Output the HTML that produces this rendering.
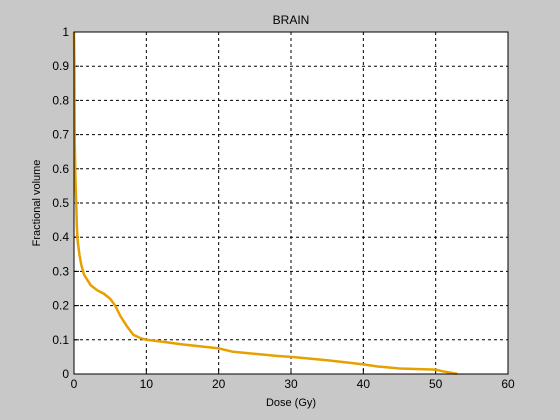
<!DOCTYPE html>
<html><head><style>
body{margin:0;background:#c8c8c8;}
svg{display:block;font-family:"Liberation Sans",sans-serif;}
</style></head><body>
<svg id="chart" width="560" height="420">
<rect x="0" y="0" width="560" height="420" fill="#c8c8c8"/>
<rect x="74" y="32" width="434" height="342" fill="#fff"/>
<g id="grid"></g>
<g id="ticks"></g>
<path id="curve" fill="none" stroke="#e8a000" stroke-width="2.5"/>
<rect x="74" y="32" width="434" height="342" fill="none" stroke="#000" stroke-width="1"/>
<text x="291" y="24" font-size="12" text-anchor="middle">BRAIN</text>
<text x="291" y="406" font-size="11" text-anchor="middle">Dose (Gy)</text>
<text x="40" y="203" font-size="11" text-anchor="middle" transform="rotate(-90 40 203)">Fractional volume</text>
</svg>
<script>
const xTicks=[0,10,20,30,40,50,60];
const yTicks=[0,0.1,0.2,0.3,0.4,0.5,0.6,0.7,0.8,0.9,1];
const yTickLabels=["0","0.1","0.2","0.3","0.4","0.5","0.6","0.7","0.8","0.9","1"];
const doseValues=[0,0.05,0.1,0.2,0.3,0.4,0.5,0.75,1,1.4,2.3,3.2,4.1,5,5.7,6.4,7.3,8.2,9.2,10,12,14.8,20,22,28,30,35,40,42,45,50,51,52,53];
const volumeValues=[1,0.9,0.68,0.58,0.5,0.43,0.39,0.35,0.32,0.29,0.26,0.245,0.235,0.22,0.2,0.17,0.14,0.115,0.105,0.1,0.095,0.087,0.075,0.065,0.053,0.05,0.04,0.028,0.022,0.016,0.013,0.008,0.004,0];
const X0=74,X1=508,Y0=374,Y1=32;
const sx=v=>X0+(v-0)/60*(X1-X0);
const sy=v=>Y0-(v-0)/1*(Y0-Y1);
const NS="http://www.w3.org/2000/svg";
const grid=document.getElementById('grid'),ticks=document.getElementById('ticks');
function mk(tag,attrs,parent){const e=document.createElementNS(NS,tag);for(const k in attrs)e.setAttribute(k,attrs[k]);parent.appendChild(e);return e;}
xTicks.forEach((t,i)=>{
  const x=sx(t);
  if(i>0&&i<xTicks.length-1){const g=mk('line',{x1:x,x2:x,y1:Y1,y2:Y0,stroke:'#000','stroke-dasharray':'3,3','stroke-width':1},grid);
  
  }
  const tk=mk('line',{x1:x,x2:x,y1:Y0,y2:Y0-5,stroke:'#000'},ticks);
  
  
  const tx=mk('text',{x:x,y:Y0+14,'font-size':12,'text-anchor':'middle'},ticks);tx.textContent=t;
  
  
});
yTicks.forEach((t,i)=>{
  const y=sy(t);
  if(i>0&&i<yTicks.length-1){const g=mk('line',{x1:X0,x2:X1,y1:y,y2:y,stroke:'#000','stroke-dasharray':'3,3','stroke-width':1},grid);
  
  }
  const tk=mk('line',{x1:X0,x2:X0+5,y1:y,y2:y,stroke:'#000'},ticks);
  
  
  const tx=mk('text',{x:X0-5,y:y+4,'font-size':12,'text-anchor':'end'},ticks);tx.textContent=yTickLabels[i];
  
  
});
document.getElementById('curve').setAttribute('d',doseValues.map((d,i)=>(i?'L':'M')+sx(d).toFixed(1)+','+sy(volumeValues[i]).toFixed(1)).join(''));
</script>
</body></html>
